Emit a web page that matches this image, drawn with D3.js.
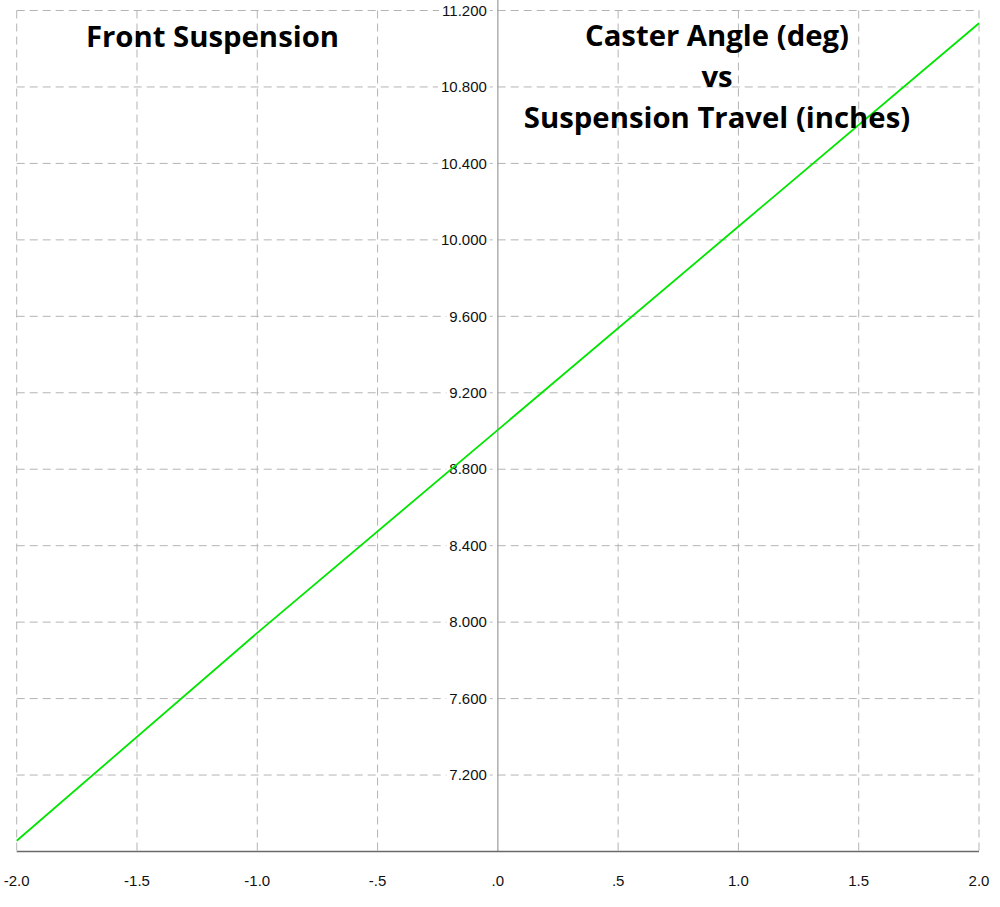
<!DOCTYPE html>
<html><head><meta charset="utf-8">
<script src="https://cdn.jsdelivr.net/npm/d3@7"></script>
<style>body{margin:0;background:#fff}</style>
</head><body>
<svg id="c" width="1000" height="907"></svg>
<script>
const travel = [-2.0, -1.0, 0.0, 1.0, 2.0];
const caster = [6.856, 7.944, 9.006, 10.07, 11.133];
const xTicks = [-2, -1.5, -1, -0.5, 0, 0.5, 1, 1.5, 2];
const xTickLabels = ["-2.0", "-1.5", "-1.0", "-.5", ".0", ".5", "1.0", "1.5", "2.0"];
const yTicks = [7.2, 7.6, 8.0, 8.4, 8.8, 9.2, 9.6, 10.0, 10.4, 10.8, 11.2];
const yTickLabels = ["7.200","7.600","8.000","8.400","8.800","9.200","9.600","10.000","10.400","10.800","11.200"];
const leftTitle = "Front Suspension";
const rightTitle = ["Caster Angle (deg)", "vs", "Suspension Travel (inches)"];

const svg = d3.select("#c");
const x = d3.scaleLinear().domain([-2, 2]).range([16.7, 979]);
const y = d3.scaleLinear().domain([6.8, 11.2]).range([851.5, 10.5]);

const grid = svg.append("g").attr("stroke", "#b4b4b4").attr("stroke-width", 1).attr("stroke-dasharray", "8,5");
grid.selectAll("line.v").data(xTicks).join("line").attr("class","v")
  .attr("x1", d => x(d)).attr("x2", d => x(d)).attr("y1", y(11.2)).attr("y2", y(6.8))
  .attr("stroke-opacity", d => d === 0 ? 0 : 1);
grid.selectAll("line.h").data(yTicks).join("line").attr("class","h")
  .attr("x1", x(-2)).attr("x2", x(2)).attr("y1", d => y(d)).attr("y2", d => y(d));

// y axis at x = 0
svg.append("line").attr("x1", x(0)).attr("x2", x(0)).attr("y1", 0).attr("y2", y(6.8))
  .attr("stroke", "#9a9a9a").attr("stroke-width", 1.2);
// x axis at bottom
svg.append("line").attr("x1", x(-2)).attr("x2", x(2)).attr("y1", y(6.8)).attr("y2", y(6.8))
  .attr("stroke", "#6a6a6a").attr("stroke-width", 1.5);

// y tick labels with white backdrop
const yl = svg.append("g").attr("font-family", "Liberation Sans, Arial, sans-serif").attr("font-size", 15).attr("fill", "#111");
yTicks.forEach((t, i) => {
  const g = yl.append("g");
  const txt = g.append("text").attr("x", x(0) - 11).attr("y", y(t)).attr("dy", "0.35em")
    .attr("text-anchor", "end").text(yTickLabels[i]);
  const bb = txt.node().getBBox();
  g.insert("rect", "text").attr("x", bb.x - 3).attr("y", bb.y).attr("width", bb.width + 6).attr("height", bb.height).attr("fill", "#fff");
});

// x tick labels
svg.append("g").attr("font-family", "Liberation Sans, Arial, sans-serif").attr("font-size", 15).attr("fill", "#111")
  .selectAll("text").data(xTicks).join("text")
  .attr("x", d => x(d)).attr("y", 886).attr("text-anchor", "middle").text((d, i) => xTickLabels[i]);

// data line
svg.append("path").datum(travel.map((t, i) => [t, caster[i]]))
  .attr("fill", "none").attr("stroke", "#00e600").attr("stroke-width", 1.8)
  .attr("d", d3.line().x(d => x(d[0])).y(d => y(d[1])));

// titles
const tf = "Open Sans, sans-serif";
svg.append("text").attr("x", 212.5).attr("y", 47).attr("text-anchor", "middle")
  .attr("font-family", tf).attr("font-weight", "bold").attr("font-size", 29.3).attr("fill", "#000").text(leftTitle);
const ry = [46, 87, 128];
rightTitle.forEach((s, i) => {
  svg.append("text").attr("x", 717).attr("y", ry[i]).attr("text-anchor", "middle")
    .attr("font-family", tf).attr("font-weight", "bold").attr("font-size", 29.3).attr("fill", "#000").text(s);
});
</script>
</body></html>
